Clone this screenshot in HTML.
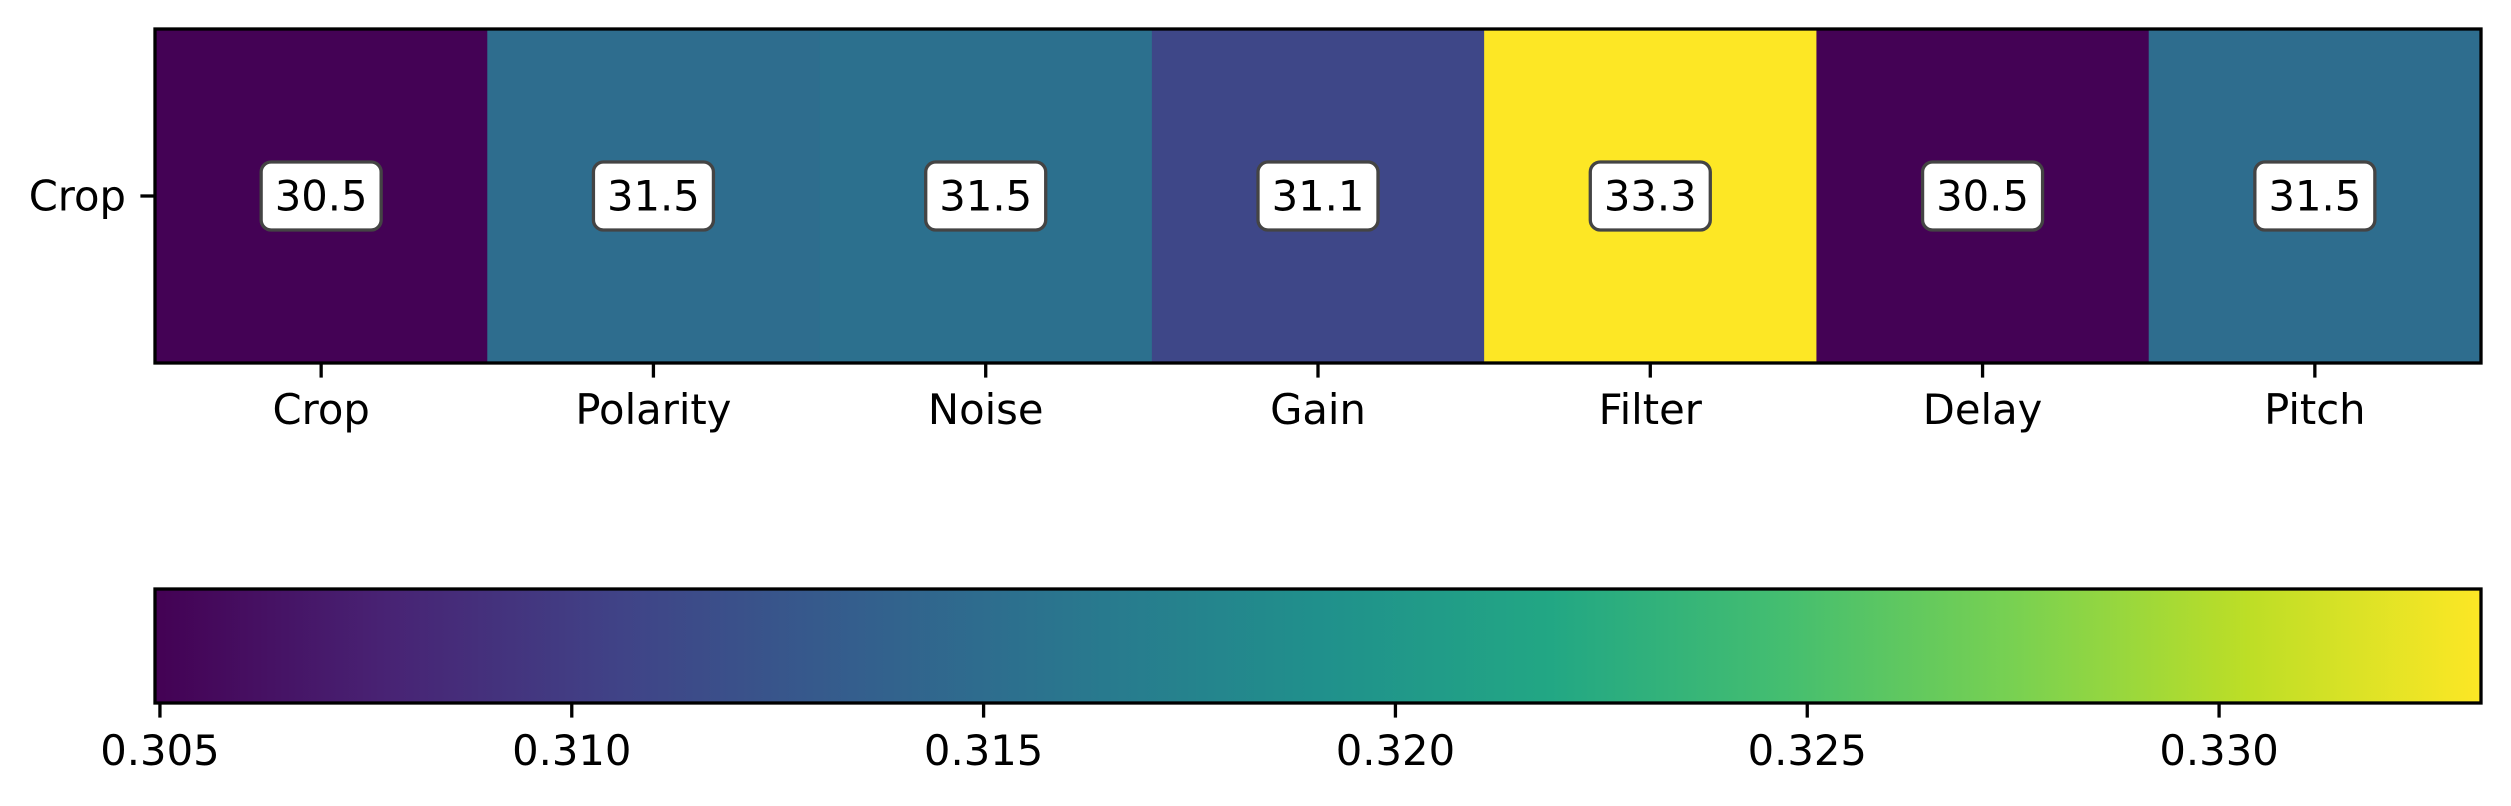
<!DOCTYPE html>
<html><head><meta charset="utf-8"><style>
html,body{margin:0;padding:0;background:#fff;}
svg{display:block;font-family:"DejaVu Sans","Liberation Sans",sans-serif;}
</style></head><body>
<svg id="chart" width="2511" height="806" viewBox="0 0 2511 806" xmlns="http://www.w3.org/2000/svg">
<defs><linearGradient id="vgrad" x1="0" x2="1" y1="0" y2="0"></linearGradient></defs>
<g id="cells"></g>
<g id="labels"></g>
<rect x="155" y="29" width="2326" height="334" fill="none" stroke="#000" stroke-width="3.3"/>
<g id="xticks"></g>
<g>
<line x1="155" x2="140.4" y1="196" y2="196" stroke="#000" stroke-width="3.3"/>
<text x="126" y="196" font-size="41.7" text-anchor="end" dominant-baseline="central">Crop</text>
</g>
<rect x="155" y="589" width="2326" height="114" fill="url(#vgrad)"/>
<rect x="155" y="589" width="2326" height="114" fill="none" stroke="#000" stroke-width="3.3"/>
<g id="cticks"></g>
</svg>
<script>
const categories = ["Crop","Polarity","Noise","Gain","Filter","Delay","Pitch"];
const rowLabels = ["Crop"];
const values = [0.305,0.3150,0.3154,0.3110,0.33318,0.305,0.3150];
const printed = ["30.5","31.5","31.5","31.1","33.3","30.5","31.5"];
const cbarTicks = [0.305,0.310,0.315,0.320,0.325,0.330];
const cbarTickLabels = ["0.305","0.310","0.315","0.320","0.325","0.330"];
const vmin = 0.30494, vmax = 0.33318;

const NS="http://www.w3.org/2000/svg";
const X0=155,X1=2481,Y0=29,Y1=363,CY0=589,CY1=703;
const vir=[[68,1,84],[72,35,116],[64,67,135],[52,94,141],[41,120,142],[32,144,140],[34,167,132],[68,190,112],[121,209,81],[189,222,38],[253,231,37]];
function viridis(t){t=Math.max(0,Math.min(1,t));const p=t*(vir.length-1);const i=Math.min(Math.floor(p),vir.length-2);const f=p-i;
const c=vir[i].map((a,k)=>Math.round(a+(vir[i+1][k]-a)*f));return `rgb(${c[0]},${c[1]},${c[2]})`;}
function colorScale(v){return viridis((v-vmin)/(vmax-vmin));}
const cw=(X1-X0)/categories.length;
function xBand(i){return X0+i*cw;}
function cbX(v){return X0+(v-vmin)/(vmax-vmin)*(X1-X0);}
function mk(tag,attrs,parent){const e=document.createElementNS(NS,tag);for(const k in attrs)e.setAttribute(k,attrs[k]);parent.appendChild(e);return e;}
const g=document.getElementById('vgrad');
for(let i=0;i<vir.length;i++){mk('stop',{offset:(i/(vir.length-1)),'stop-color':viridis(i/(vir.length-1))},g);}
const cells=document.getElementById('cells'),labels=document.getElementById('labels'),xt=document.getElementById('xticks'),ct=document.getElementById('cticks');
const cy=(Y0+Y1)/2;
values.forEach((v,i)=>{
 const r=mk('rect',{x:xBand(i),y:Y0,width:cw+0.5,height:Y1-Y0,fill:colorScale(v)},cells);
 
 
 const cx=xBand(i)+cw/2;
 const b=mk('rect',{x:cx-60,y:cy-34,width:120,height:68,rx:10,fill:'#fff',stroke:'#444',"stroke-width":3.3},labels);
 
 
 const t=mk('text',{x:cx,y:cy,"font-size":41.7,"text-anchor":"middle","dominant-baseline":"central"},labels);
 t.textContent=printed[i];
 
 
 mk('line',{x1:cx,x2:cx,y1:Y1,y2:Y1+14.6,stroke:'#000',"stroke-width":3.3},xt);
 const l=mk('text',{x:cx,y:Y1+61,"font-size":41.7,"text-anchor":"middle"},xt);
 l.textContent=categories[i];
 
 
});
cbarTicks.forEach((v,i)=>{
 const x=cbX(v);
 mk('line',{x1:x,x2:x,y1:CY1,y2:CY1+14.6,stroke:'#000',"stroke-width":3.3},ct);
 const l=mk('text',{x:x,y:CY1+62,"font-size":41.7,"text-anchor":"middle"},ct);
 l.textContent=cbarTickLabels[i];
 
 
});
</script>
</body></html>
